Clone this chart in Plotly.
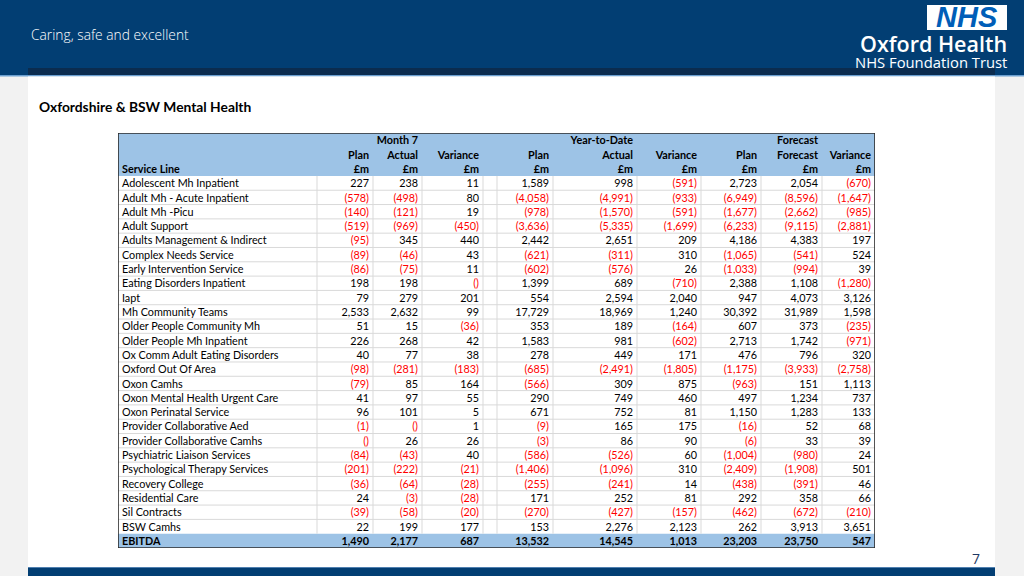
import plotly.graph_objects as go

# ---------------- data ----------------
service_lines = [
    "Adolescent Mh Inpatient", "Adult Mh - Acute Inpatient", "Adult Mh -Picu", "Adult Support",
    "Adults Management & Indirect", "Complex Needs Service", "Early Intervention Service",
    "Eating Disorders Inpatient", "Iapt", "Mh Community Teams", "Older People Community Mh",
    "Older People Mh Inpatient", "Ox Comm Adult Eating Disorders", "Oxford Out Of Area", "Oxon Camhs",
    "Oxon Mental Health Urgent Care", "Oxon Perinatal Service", "Provider Collaborative Aed",
    "Provider Collaborative Camhs", "Psychiatric Liaison Services", "Psychological Therapy Services",
    "Recovery College", "Residential Care", "Sil Contracts", "BSW Camhs",
]
total_label = "EBITDA"

m7_plan = [227, -578, -140, -519, -95, -89, -86, 198, 79, 2533, 51, 226, 40, -98, -79, 41, 96, -1, -0.3, -84, -201, -36, 24, -39, 22]
m7_actual = [238, -498, -121, -969, 345, -46, -75, 198, 279, 2632, 15, 268, 77, -281, 85, 97, 101, -0.3, 26, -43, -222, -64, -3, -58, 199]
m7_var = [11, 80, 19, -450, 440, 43, 11, -0.3, 201, 99, -36, 42, 38, -183, 164, 55, 5, 1, 26, 40, -21, -28, -28, -20, 177]
ytd_plan = [1589, -4058, -978, -3636, 2442, -621, -602, 1399, 554, 17729, 353, 1583, 278, -685, -566, 290, 671, -9, -3, -586, -1406, -255, 171, -270, 153]
ytd_actual = [998, -4991, -1570, -5335, 2651, -311, -576, 689, 2594, 18969, 189, 981, 449, -2491, 309, 749, 752, 165, 86, -526, -1096, -241, 252, -427, 2276]
ytd_var = [-591, -933, -591, -1699, 209, 310, 26, -710, 2040, 1240, -164, -602, 171, -1805, 875, 460, 81, 175, 90, 60, 310, 14, 81, -157, 2123]
fc_plan = [2723, -6949, -1677, -6233, 4186, -1065, -1033, 2388, 947, 30392, 607, 2713, 476, -1175, -963, 497, 1150, -16, -6, -1004, -2409, -438, 292, -462, 262]
fc_forecast = [2054, -8596, -2662, -9115, 4383, -541, -994, 1108, 4073, 31989, 373, 1742, 796, -3933, 151, 1234, 1283, 52, 33, -980, -1908, -391, 358, -672, 3913]
fc_var = [-670, -1647, -985, -2881, 197, 524, 39, -1280, 3126, 1598, -235, -971, 320, -2758, 1113, 737, 133, 68, 39, 24, 501, 46, 66, -210, 3651]
totals = [1490, 2177, 687, 13532, 14545, 1013, 23203, 23750, 547]

group_row = ["", "", "Month 7", "", "", "", "Year-to-Date", "", "", "Forecast", ""]
title_row = ["", "Plan", "Actual", "Variance", "", "Plan", "Actual", "Variance", "Plan", "Forecast", "Variance"]
unit_row = ["Service Line", "£m", "£m", "£m", "", "£m", "£m", "£m", "£m", "£m", "£m"]

# ---------------- styling ----------------
HDR_BLUE = "#9DC3E6"
GRID = "#D9D9D9"
RED = "#FF0000"
TXT = "#000000"
NAVY = "#023E73"
FONT = "Lato, Calibri, sans-serif"
FS = 10.8
col_widths = [199, 56, 49, 61, 14, 56, 84, 64, 60, 61, 53]   # px-like units
PAD = 4
YOFF = 0.6   # vertical text position inside a row

W, H = 1024, 576
tx0, tx1 = 118, 875
ty_top, ty_bot = 133, 548


def fmt(v):
    a = round(abs(v))
    s = f"{a:,}" if a != 0 else ""
    return f"({s})" if v < 0 else s


num_cols = [m7_plan, m7_actual, m7_var, None, ytd_plan, ytd_actual, ytd_var, fc_plan, fc_forecast, fc_var]
n = len(service_lines)
n_hdr = 3
n_rows = n_hdr + n + 1

edges = [0]
for w in col_widths:
    edges.append(edges[-1] + w)
total_w = edges[-1]

fig = go.Figure()

# header text rows
for r, row in enumerate([group_row, title_row, unit_row]):
    for c, label in enumerate(row):
        if not label:
            continue
        left = c == 0
        fig.add_trace(go.Scatter(
            x=[edges[c] + PAD if left else edges[c + 1] - PAD], y=[r + YOFF],
            mode="text", text=[f"<b>{label}</b>"],
            textposition="middle right" if left else "middle left",
            textfont=dict(family=FONT, size=FS, color=TXT),
            marker=dict(size=0), hoverinfo="skip", showlegend=False))

data_rows_y = [n_hdr + i + YOFF for i in range(n)]
total_y = n_hdr + n + YOFF

# service line column
fig.add_trace(go.Scatter(
    x=[edges[0] + PAD] * (n + 1), y=data_rows_y + [total_y],
    mode="text", text=service_lines + [f"<b>{total_label}</b>"],
    textposition="middle right",
    textfont=dict(family=FONT, size=FS, color=TXT),
    marker=dict(size=0), hoverinfo="skip", showlegend=False))

ti = 0
for c, data in enumerate(num_cols, start=1):
    if data is None:
        continue
    t = totals[ti]
    ti += 1
    vals = list(data) + [t]
    texts = [fmt(v) for v in data] + [f"<b>{fmt(t)}</b>"]
    colors = [RED if v < 0 else TXT for v in vals]
    fig.add_trace(go.Scatter(
        x=[edges[c + 1] - PAD] * (n + 1), y=data_rows_y + [total_y],
        mode="text", text=texts, textposition="middle left",
        textfont=dict(family=FONT, size=FS, color=colors),
        marker=dict(size=0), hoverinfo="skip", showlegend=False))

shapes = [
    # page background pieces
    dict(type="rect", xref="paper", yref="paper", x0=0, x1=1, y0=1 - 75 / H, y1=1,
         fillcolor=NAVY, line_width=0, layer="below"),
    dict(type="rect", xref="paper", yref="paper", x0=28 / W, x1=995 / W, y0=1 - 75 / H, y1=1 - 68 / H,
         fillcolor="#0B2C4F", line_width=0, layer="below"),
    dict(type="rect", xref="paper", yref="paper", x0=0, x1=1, y0=1 - 76.5 / H, y1=1 - 75 / H,
         fillcolor="#6A9FD0", line_width=0, layer="below"),
    dict(type="rect", xref="paper", yref="paper", x0=28 / W, x1=995 / W, y0=1 - 567 / H, y1=1 - 76.5 / H,
         fillcolor="white", line_width=0, layer="below"),
    dict(type="rect", xref="paper", yref="paper", x0=28 / W, x1=995 / W, y0=0, y1=1 - 567 / H,
         fillcolor=NAVY, line_width=0, layer="below"),
    dict(type="rect", xref="paper", yref="paper", x0=28 / W, x1=995 / W, y0=1 - 568 / H, y1=1 - 567 / H,
         fillcolor="#4F7FAF", line_width=0, layer="below"),
    dict(type="rect", xref="paper", yref="paper", x0=927 / W, x1=1007 / W, y0=1 - 30 / H, y1=1 - 5 / H,
         fillcolor="white", line_width=0, layer="below"),
    # table fills
    dict(type="rect", xref="x", yref="y", x0=0, x1=total_w, y0=0, y1=n_hdr,
         fillcolor=HDR_BLUE, line_width=0, layer="below"),
    dict(type="rect", xref="x", yref="y", x0=0, x1=total_w, y0=n_rows - 1, y1=n_rows,
         fillcolor=HDR_BLUE, line_width=0, layer="below"),
]
# grid lines (data rows only)
for r in range(n_hdr + 1, n_rows - 1):
    shapes.append(dict(type="line", xref="x", yref="y", x0=0, x1=total_w, y0=r, y1=r,
                       line=dict(color=GRID, width=1), layer="below"))
for e in edges[1:-1]:
    shapes.append(dict(type="line", xref="x", yref="y", x0=e, x1=e, y0=n_hdr, y1=n_rows - 1,
                       line=dict(color=GRID, width=1), layer="below"))
# outer border
shapes.append(dict(type="rect", xref="x", yref="y", x0=0, x1=total_w, y0=0, y1=n_rows,
                   line=dict(color="#2B2B2B", width=1.6), fillcolor="rgba(0,0,0,0)", layer="above"))

annotations = [
    dict(text="Caring, safe and excellent", x=29 / W, y=1 - 34 / H, xanchor="left", yanchor="middle",
         font=dict(family="Open Sans, sans-serif", size=13.8, color="white", weight=300)),
    dict(text="<b><i>NHS</i></b>", x=967 / W, y=1 - 17.5 / H, xanchor="center", yanchor="middle",
         font=dict(family="Liberation Sans, Arial", size=29, color="#005EB8")),
    dict(text="Oxford Health", x=1009 / W, y=1 - 43.5 / H, xanchor="right", yanchor="middle",
         font=dict(family="Open Sans, sans-serif", size=21.5, color="white", weight=600)),
    dict(text="NHS Foundation Trust", x=1009 / W, y=1 - 62 / H, xanchor="right", yanchor="middle",
         font=dict(family="Open Sans, sans-serif", size=14.8, color="white")),
    dict(text="<b>Oxfordshire & BSW Mental Health</b>", x=37 / W, y=1 - 107 / H, xanchor="left", yanchor="middle",
         font=dict(family="Lato, sans-serif", size=13.8, color="black")),
    dict(text="7", x=976 / W, y=1 - 558 / H, xanchor="center", yanchor="middle",
         font=dict(family="Open Sans, sans-serif", size=14, color="#1F3864")),
]
for a in annotations:
    a.update(xref="paper", yref="paper", showarrow=False)

fig.update_layout(
    width=W, height=H,
    margin=dict(l=0, r=0, t=0, b=0),
    paper_bgcolor="#F2F2F2",
    plot_bgcolor="rgba(0,0,0,0)",
    xaxis=dict(domain=[tx0 / W, tx1 / W], range=[0, total_w], visible=False, fixedrange=True),
    yaxis=dict(domain=[1 - ty_bot / H, 1 - ty_top / H], range=[n_rows, 0], visible=False, fixedrange=True),
    shapes=shapes,
    annotations=annotations,
)

fig.write_html("out.html", config={"displayModeBar": False},
               post_script="document.body.style.margin='0';")
